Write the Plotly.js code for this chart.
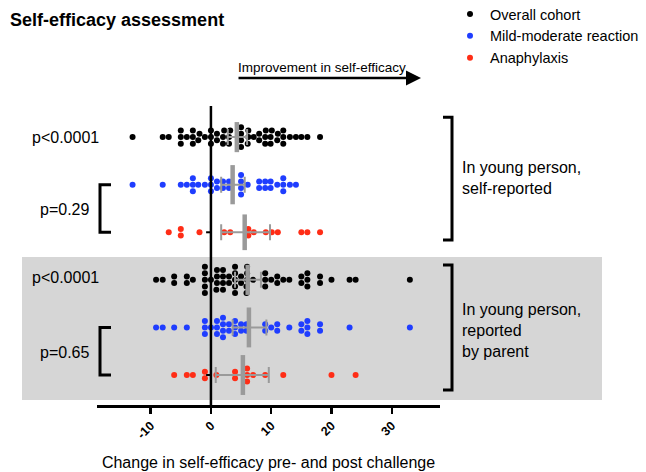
<!DOCTYPE html>
<html><head><meta charset="utf-8">
<script src="https://cdn.plot.ly/plotly-3.0.1.min.js"></script>
<style>html,body{margin:0;padding:0;background:#fff}#chart{width:646px;height:472px}</style>
</head><body><div id="chart"></div>
<script>
// ---- data (change in self-efficacy score) ----
const seriesNames = ["Overall cohort", "Mild-moderate reaction", "Anaphylaxis"];
const mildSelf = [-13, -8, -5, -4, -3, -3, -3, -2.1, -1, 0, 0, 0, 1, 1, 2, 2, 3, 3, 5, 5, 5, 5, 6.1, 8, 8, 9, 9, 9.9, 9.9, 11, 12, 12, 12, 13.1, 14.1];
const anaSelf = [-7, -5, -5, -1.9, 2.2, 3.2, 6.2, 6.2, 7.1, 9.1, 10.1, 11.1, 15, 16, 18.1];
const mildParent = [-9.1, -8, -6.1, -4, -1, -1, -1, 0, 1, 1, 1, 2, 2, 2, 2, 3, 3, 4, 4, 4, 5, 5, 5.9, 5.9, 9, 9, 10, 11, 11, 13, 15, 15, 16, 16, 16, 18.1, 18.1, 23, 33];
const anaParent = [-6.1, -4, -3, -1, -1, 0.9, 4, 4, 6, 6, 6, 7, 9, 12, 20, 24];
// overall cohort = both reaction groups together
const overallSelf = mildSelf.concat(anaSelf);
const overallParent = mildParent.concat(anaParent);
// mean and 95% CI, rows top to bottom
const meanVals = [4.3, 3.6, 5.6, 6.1, 6.3, 5.3];
const ciLow = [2.8, 1.7, 1.7, 4.0, 3.6, 0.8];
const ciHigh = [6.0, 5.6, 9.8, 8.3, 9.2, 9.6];
const pLabels = ["p<0.0001", "p=0.29", "p<0.0001", "p=0.65"];
const tickVals = [-10, 0, 10, 20, 30];
const groupLabels = ["In young person,<br>self-reported", "In young person,<br>reported<br>by parent"];
const arrowLabel = "Improvement in self-efficacy";
const xTitle = "Change in self-efficacy pre- and post challenge";
const chartTitle = "Self-efficacy assessment";

// ---- layout helpers ----
const colors = ["#000000", "#1f3dff", "#ff2d16"];
const rowY = [6, 5, 4, 3, 2, 1];
const rowData = [overallSelf, mildSelf, anaSelf, overallParent, mildParent, anaParent];
const rowColor = [0, 1, 2, 0, 1, 2];
const D = 0.137; // vertical dot step
const FONT = "Liberation Sans, Arial, sans-serif";

function swarm(vals, yc) {
  const s = vals.slice().sort((a, b) => a - b);
  const xs = [], ys = [];
  let i = 0;
  while (i < s.length) {
    let j = i;
    while (j < s.length && s[j] - s[i] < 0.5) j++;
    const n = j - i;
    for (let k = 0; k < n; k++) { xs.push(s[i + k]); ys.push(yc + (k - (n - 1) / 2) * D); }
    i = j;
  }
  return {x: xs, y: ys};
}

const traces = [];
rowData.forEach((vals, r) => {
  const sw = swarm(vals, rowY[r]);
  const c = rowColor[r];
  traces.push({
    type: "scatter", mode: "markers", x: sw.x, y: sw.y,
    name: seriesNames[c], legendgroup: "g" + c, showlegend: r < 3,
    marker: {color: colors[c], size: 6, line: {width: 0}},
    hoverinfo: "x", cliponaxis: false
  });
});
const barSizes = [21.5, 28, 25.5, 21.5, 28.5, 28.5];
rowY.forEach((y, r) => {
  traces.push({
    type: "scatter", mode: "markers", x: [meanVals[r]], y: [y], showlegend: false,
    marker: {symbol: "line-ns", size: barSizes[r], line: {width: 4.5, color: "#9a9a9a"}, color: "#9a9a9a"},
    error_x: {type: "data", symmetric: false, array: [ciHigh[r] - meanVals[r]], arrayminus: [meanVals[r] - ciLow[r]],
      color: "#9a9a9a", thickness: 2, width: 8},
    hoverinfo: "x", cliponaxis: false
  });
});

const L = 97, R = 440, T = 100, B = 405;
const px = v => (v - L) / (R - L);
const py = v => (B - v) / (B - T);

const blk = {color: "#000", width: 3};
const shapes = [
  {type: "rect", xref: "paper", yref: "y", x0: px(22), x1: px(602), y0: 0.475, y1: 3.48, fillcolor: "#d6d6d6", line: {width: 0}, layer: "below"},
  {type: "line", xref: "x", yref: "paper", x0: 0, x1: 0, y0: 0, y1: py(106), line: {color: "#000", width: 2.5}, layer: "above"},
  {type: "line", xref: "x", yref: "y", x0: -0.8, x1: 0, y0: 4, y1: 4, line: {color: "#000", width: 2}},
  {type: "line", xref: "x", yref: "y", x0: -0.8, x1: 0, y0: 1, y1: 1, line: {color: "#000", width: 2}},
  // left brackets
  {type: "path", xref: "paper", yref: "y", path: `M ${px(111)} 5 L ${px(100)} 5 L ${px(100)} 4 L ${px(111)} 4`, line: blk},
  {type: "path", xref: "paper", yref: "y", path: `M ${px(111)} 2 L ${px(100)} 2 L ${px(100)} 1 L ${px(111)} 1`, line: blk},
  // right brackets
  {type: "path", xref: "paper", yref: "y", path: `M ${px(443)} 6.42 L ${px(452)} 6.42 L ${px(452)} 3.84 L ${px(443)} 3.84`, line: blk},
  {type: "path", xref: "paper", yref: "y", path: `M ${px(443)} 3.31 L ${px(452)} 3.31 L ${px(452)} 0.685 L ${px(443)} 0.685`, line: blk}
];

const pY = [6, 4.47, 3.04, 1.48];
const pX = [30, 38, 30, 38];
const annotations = pLabels.map((t, i) => ({
  text: t, xref: "paper", yref: "y", x: px(pX[i]), y: pY[i], xanchor: "left", yanchor: "middle",
  showarrow: false, font: {family: FONT, size: 16, color: "#000"}
}));
annotations.push(
  {text: groupLabels[0], xref: "paper", yref: "y", x: px(460), y: 5.15, xanchor: "left", yanchor: "middle", align: "left", showarrow: false, font: {family: FONT, size: 16, color: "#000"}},
  {text: groupLabels[1], xref: "paper", yref: "y", x: px(460), y: 1.945, xanchor: "left", yanchor: "middle", align: "left", showarrow: false, font: {family: FONT, size: 16, color: "#000"}},
  {text: arrowLabel, xref: "paper", yref: "paper", x: px(236), y: py(67), xanchor: "left", yanchor: "middle", showarrow: false, font: {family: FONT, size: 13.5, color: "#000"}},
  {text: "", xref: "paper", yref: "paper", x: px(421), y: py(78), axref: "paper", ayref: "paper", ax: px(237), ay: py(78),
    showarrow: true, arrowhead: 2, arrowsize: 1.2, arrowwidth: 2.5, arrowcolor: "#000"}
);

const layout = {
  width: 646, height: 472,
  margin: {l: L, r: 646 - R, t: T, b: 472 - B, pad: 0, autoexpand: false},
  paper_bgcolor: "#fff", plot_bgcolor: "rgba(0,0,0,0)",
  font: {family: FONT, color: "#000"},
  title: {text: "<b>" + chartTitle + "</b>", x: 10 / 646, xanchor: "left", xref: "container", y: 1 - 20 / 472, yanchor: "middle", yref: "container", font: {family: FONT, size: 18, color: "#000"}},
  xaxis: {range: [-18.9, 38], tickvals: tickVals, ticktext: tickVals.map(String), tickangle: -45,
    ticks: "outside", ticklen: 6, tickwidth: 2.5, tickcolor: "#000",
    showline: true, linecolor: "#000", linewidth: 2.5, showgrid: false, zeroline: false,
    tickfont: {family: FONT, size: 12.5, weight: "bold", color: "#000"},
    title: {text: xTitle, font: {family: FONT, size: 16, color: "#000"}, standoff: 16}},
  yaxis: {range: [0.37, 6.78], visible: false, showgrid: false, zeroline: false},
  showlegend: true,
  legend: {x: px(450), y: py(-2), xanchor: "left", yanchor: "top", bgcolor: "rgba(0,0,0,0)", font: {family: FONT, size: 14.5, color: "#000"}, tracegroupgap: 0, itemwidth: 30},
  shapes: shapes, annotations: annotations, hovermode: "closest"
};
Plotly.newPlot("chart", traces, layout, {displayModeBar: false, staticPlot: true});
</script>
</body></html>
